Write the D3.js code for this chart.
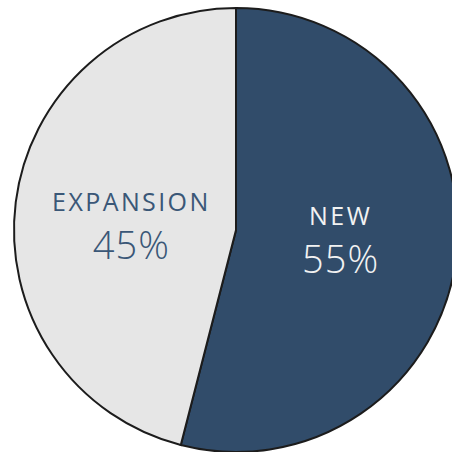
<!DOCTYPE html>
<html>
<head>
<meta charset="utf-8">
<script src="https://cdn.jsdelivr.net/npm/d3@7"></script>
<style>
  html, body { margin: 0; padding: 0; background: #ffffff; }
  svg { display: block; }
</style>
</head>
<body>
<svg id="chart" width="452" height="452"></svg>
<script>
// Data (slice angles; displayed labels as printed)
const categories = ["NEW", "EXPANSION"];
const values = [54, 46];
const valueLabels = ["55%", "45%"];
const sliceColors = ["#314c6a", "#e6e6e6"];
const textColors = ["#f2f2f2", "#3a5777"];

const W = 452, H = 452;
const cx = 236, cy = 230, R = 222;

const svg = d3.select("#chart");
const g = svg.append("g").attr("transform", `translate(${cx},${cy})`);

const pie = d3.pie().sort(null).value(d => d.value);
const arcs = pie(categories.map((c, i) => ({ cat: c, value: values[i], label: valueLabels[i], i })));

const arc = d3.arc().innerRadius(0).outerRadius(R);
const labelArc = d3.arc().innerRadius(0).outerRadius(R * 0.95);

g.selectAll("path.slice")
  .data(arcs)
  .join("path")
  .attr("class", "slice")
  .attr("d", arc)
  .attr("fill", d => sliceColors[d.data.i])
  .attr("stroke", "#1c1c1c")
  .attr("stroke-width", 2)
  .attr("stroke-linejoin", "miter");

const labels = g.selectAll("g.lbl")
  .data(arcs)
  .join("g")
  .attr("class", "lbl")
  .attr("transform", d => {
    const c = labelArc.centroid(d);
    return `translate(${c[0]},${c[1] * 0.55})`;
  });

labels.append("text")
  .attr("text-anchor", "middle")
  .attr("y", -12)
  .attr("font-family", "'Open Sans', sans-serif")
  .attr("font-weight", 400)
  .attr("font-size", 25)
  .attr("letter-spacing", 2.4)
  .attr("fill", d => textColors[d.data.i])
  .text(d => d.data.cat);

labels.append("text")
  .attr("text-anchor", "middle")
  .attr("y", 36)
  .attr("font-family", "'Open Sans', sans-serif")
  .attr("font-weight", 300)
  .attr("font-size", 38)
  .attr("letter-spacing", 1)
  .attr("fill", d => textColors[d.data.i])
  .text(d => d.data.label);
</script>
</body>
</html>
